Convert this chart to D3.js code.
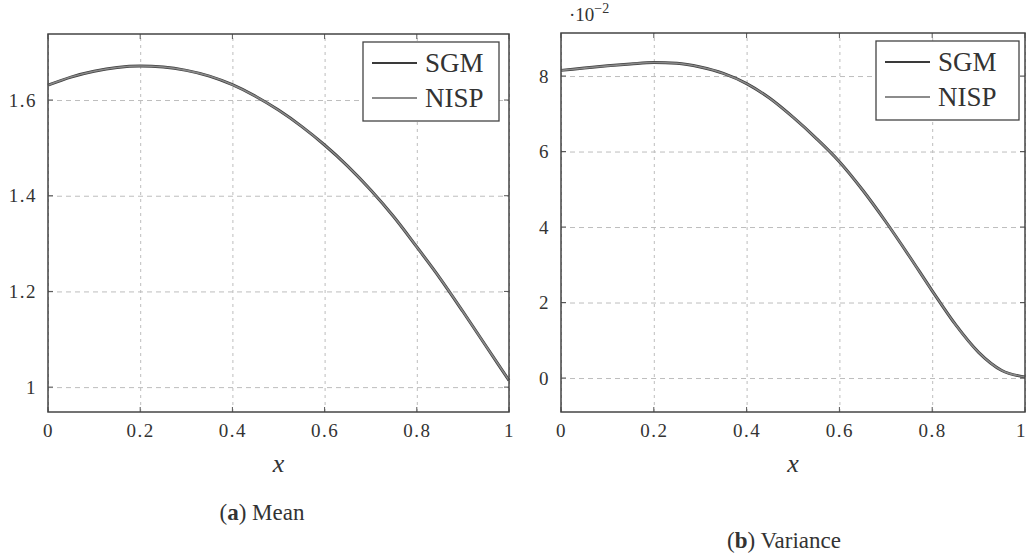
<!DOCTYPE html>
<html>
<head>
<meta charset="utf-8">
<script src="https://cdn.jsdelivr.net/npm/d3@7"></script>
<style>
  body { margin: 0; background: #fff; }
  svg text { font-family: "Liberation Serif", "DejaVu Serif", serif; fill: #333; }
</style>
</head>
<body>
<div id="chart"></div>
<script>
// sample positions along x
const xs = [0, 0.05, 0.1, 0.15, 0.2, 0.25, 0.3, 0.35, 0.4, 0.45, 0.5,
            0.55, 0.6, 0.65, 0.7, 0.75, 0.8, 0.85, 0.9, 0.95, 1];

// mean
const sgmMean  = [1.631, 1.648, 1.660, 1.668, 1.671, 1.669, 1.662, 1.650, 1.632, 1.608, 1.579,
                  1.545, 1.506, 1.462, 1.412, 1.356, 1.293, 1.228, 1.158, 1.086, 1.014];
const nispMean = [1.631, 1.648, 1.660, 1.668, 1.671, 1.669, 1.662, 1.650, 1.632, 1.608, 1.579,
                  1.545, 1.506, 1.462, 1.412, 1.356, 1.293, 1.228, 1.158, 1.086, 1.014];

// variance, in units of 10^-2
const sgmVar  = [8.15, 8.21, 8.27, 8.32, 8.36, 8.34, 8.24, 8.07, 7.80, 7.41, 6.91,
                 6.35, 5.73, 4.98, 4.14, 3.24, 2.31, 1.42, 0.68, 0.20, 0.03];
const nispVar = [8.15, 8.21, 8.27, 8.32, 8.36, 8.34, 8.24, 8.07, 7.80, 7.41, 6.91,
                 6.35, 5.73, 4.98, 4.14, 3.24, 2.31, 1.42, 0.68, 0.20, 0.03];

const xTicks = [0, 0.2, 0.4, 0.6, 0.8, 1];
const meanTicks = [1, 1.2, 1.4, 1.6];
const varTicks = [0, 2, 4, 6, 8];
const seriesNames = ["SGM", "NISP"];

const svg = d3.select("#chart").append("svg")
    .attr("width", 1029)
    .attr("height", 556);

function drawPanel(p) {
    const x = d3.scaleLinear().domain([0, 1]).range([p.left, p.right]);
    const y = d3.scaleLinear().domain(p.yDomain).range([p.bottom, p.top]);
    const w = p.right - p.left, h = p.bottom - p.top;
    const g = svg.append("g");

    // grid
    g.append("g")
        .attr("transform", `translate(0,${p.bottom})`)
        .call(d3.axisBottom(x).tickValues(xTicks).tickSize(-h).tickFormat(""))
        .call(a => a.select(".domain").remove())
        .selectAll("line").attr("stroke", "#bdbdbd").attr("stroke-dasharray", "3,4");
    g.append("g")
        .attr("transform", `translate(${p.left},0)`)
        .call(d3.axisLeft(y).tickValues(p.yTicks).tickSize(-w).tickFormat(""))
        .call(a => a.select(".domain").remove())
        .selectAll("line").attr("stroke", "#bdbdbd").attr("stroke-dasharray", "5,4");

    // small inside ticks on the frame
    [[p.bottom, 1], [p.top, -1]].forEach(([yy, s]) => {
        g.append("g").selectAll("line").data(xTicks).join("line")
            .attr("x1", d => x(d)).attr("x2", d => x(d))
            .attr("y1", yy).attr("y2", yy - s * 5)
            .attr("stroke", "#555").attr("stroke-width", 1);
    });
    [[p.left, 1], [p.right, -1]].forEach(([xx, s]) => {
        g.append("g").selectAll("line").data(p.yTicks).join("line")
            .attr("x1", xx).attr("x2", xx + s * 5)
            .attr("y1", d => y(d)).attr("y2", d => y(d))
            .attr("stroke", "#555").attr("stroke-width", 1);
    });

    // tick labels
    g.append("g")
        .attr("transform", `translate(0,${p.bottom})`)
        .call(d3.axisBottom(x).tickValues(xTicks).tickSize(0).tickPadding(12).tickFormat(d => String(d)))
        .call(a => a.select(".domain").remove())
        .selectAll("text")
        .attr("font-size", 19)
        .attr("letter-spacing", 1.5)
        .attr("fill", "#333")
        // last label sits on the page edge on the right panel
        .attr("dx", d => (d === 1 && p.right > 1015) ? -4 : 0);
    g.append("g")
        .attr("transform", `translate(${p.left},0)`)
        .call(d3.axisLeft(y).tickValues(p.yTicks).tickSize(0).tickPadding(11).tickFormat(d => String(d)))
        .call(a => a.select(".domain").remove())
        .selectAll("text")
        .attr("font-size", 19)
        .attr("letter-spacing", 1.5)
        .attr("fill", "#333");

    // curves
    const line = d3.line()
        .x((d, i) => x(xs[i]))
        .y(d => y(d))
        .curve(d3.curveMonotoneX);
    g.append("path").datum(p.sgm)
        .attr("d", line).attr("fill", "none")
        .attr("stroke", "#3f3f3f").attr("stroke-width", 3);
    g.append("path").datum(p.nisp)
        .attr("d", line).attr("fill", "none")
        .attr("stroke", "#8a8a8a").attr("stroke-width", 1.6);

    // frame
    g.append("rect")
        .attr("x", p.left).attr("y", p.top)
        .attr("width", w).attr("height", h)
        .attr("fill", "none").attr("stroke", "#444").attr("stroke-width", 1.5);

    // legend
    const lg = g.append("g").attr("transform", `translate(${p.legX},${p.legY})`);
    lg.append("rect")
        .attr("width", p.legW).attr("height", 79)
        .attr("fill", "#fff").attr("stroke", "#444").attr("stroke-width", 1.3);
    const colors = ["#3a3a3a", "#8c8c8c"];
    seriesNames.forEach((name, i) => {
        const yy = 21 + i * 35;
        lg.append("line")
            .attr("x1", 9).attr("x2", 54).attr("y1", yy).attr("y2", yy)
            .attr("stroke", colors[i]).attr("stroke-width", i === 0 ? 2 : 1.8);
        lg.append("text")
            .attr("x", 62).attr("y", yy + 9)
            .attr("font-size", 27)
            .text(name);
    });

    // axis label
    g.append("text")
        .attr("x", (p.left + p.right) / 2).attr("y", 472)
        .attr("text-anchor", "middle")
        .attr("font-size", 26).attr("font-style", "italic")
        .text("x");

    // caption
    const cap = g.append("text")
        .attr("x", p.capX).attr("y", p.capY)
        .attr("text-anchor", "middle")
        .attr("font-size", 23);
    cap.append("tspan").text("(");
    cap.append("tspan").attr("font-weight", "bold").text(p.capLetter);
    cap.append("tspan").text(") " + p.capText);

    return g;
}

drawPanel({
    left: 48, right: 509, top: 34, bottom: 412,
    yDomain: [0.948, 1.738], yTicks: meanTicks,
    sgm: sgmMean, nisp: nispMean,
    legX: 363, legY: 42, legW: 136,
    capX: 262, capY: 520, capLetter: "a", capText: "Mean"
});

const right = drawPanel({
    left: 561, right: 1025, top: 33, bottom: 412,
    yDomain: [-0.90, 9.14], yTicks: varTicks,
    sgm: sgmVar, nisp: nispVar,
    legX: 876, legY: 41, legW: 143,
    capX: 784, capY: 548, capLetter: "b", capText: "Variance"
});

// scale factor for the variance axis
const sf = right.append("text").attr("x", 569).attr("y", 21).attr("font-size", 19);
sf.append("tspan").text("·10");
sf.append("tspan").attr("dy", -8).attr("font-size", 14).text("−2");
</script>
</body>
</html>
